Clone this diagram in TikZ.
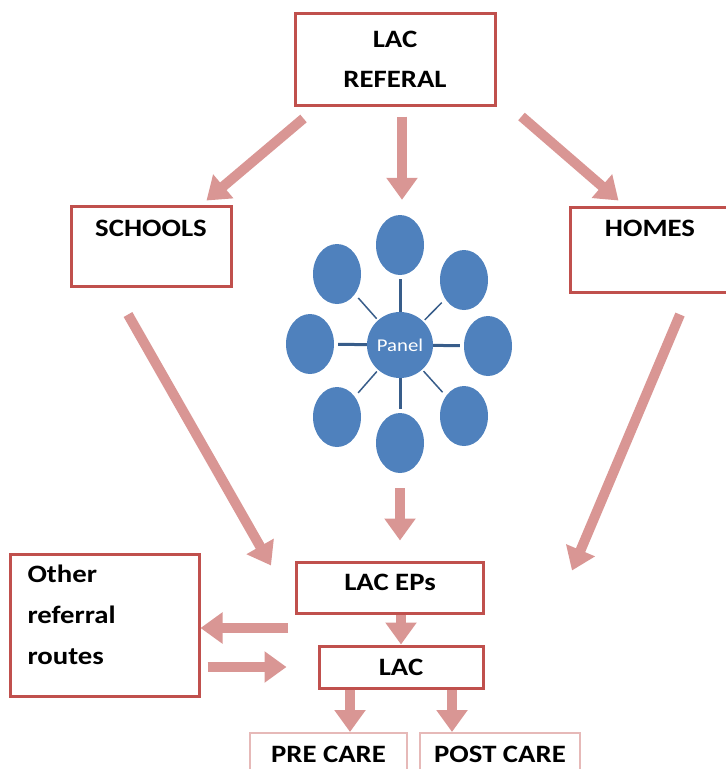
\documentclass[tikz,border=0pt]{standalone}
\usepackage{fontspec}
\setmainfont{Carlito}[FakeStretch=1.15]
\usetikzlibrary{arrows.meta,shapes.geometric}
\definecolor{boxred}{HTML}{C0504D}
\definecolor{arrowpink}{HTML}{D99694}
\definecolor{lightpink}{HTML}{E6B9B8}
\definecolor{panelblue}{HTML}{4F81BD}
\definecolor{lineblue}{HTML}{385D8A}
\begin{document}
\begin{tikzpicture}[x=1pt,y=-1pt,
	box/.style={draw=boxred,line width=3pt,inner sep=0pt},
	softbox/.style={draw=lightpink,line width=2pt,inner sep=0pt},
	txt/.style={font=\bfseries\fontsize{25}{28}\selectfont},
	leaf/.style={ellipse,fill=panelblue,minimum width=48pt,minimum height=60pt,inner sep=0pt},
	bigarrow/.style={draw=arrowpink,line width=10pt,-{Triangle[width=30pt,length=22pt]}}]
	\useasboundingbox (0,0) rectangle (726,769);
	% boxes
	\node [box,txt,align=center,minimum width=200pt,minimum height=92pt] (referal) at (395,59) {LAC\\[12pt]REFERAL};
	\node [box,minimum width=160pt,minimum height=80pt] (schools) at (151,246) {};
	\node [txt] (schoolstxt) at (151,228) {SCHOOLS};
	\node [box,minimum width=160pt,minimum height=85pt] (homes) at (650,249.5) {};
	\node [txt] (homestxt) at (650,228) {HOMES};
	\node [box,minimum width=187pt,minimum height=51pt] (laceps) at (390,587.5) {};
	\node [txt] (lacepstxt) at (390,582) {LAC EPs};
	\node [box,txt,minimum width=164pt,minimum height=42pt] (lac) at (401,667) {LAC};
	\node [box,minimum width=189pt,minimum height=142pt] (other) at (104.5,625) {};
	\node [txt,anchor=west,align=left,font=\bfseries\fontsize{25}{41}\selectfont] (othertxt) at (24,615) {Other\\referral\\routes};
	\node [softbox,txt,minimum width=157pt,minimum height=42pt] (pre) at (328.5,754) {PRE CARE};
	\node [softbox,txt,minimum width=160pt,minimum height=42pt] (post) at (500,754) {POST CARE};
	% panel
	\node [circle,fill=panelblue,minimum size=66pt,inner sep=0pt,text=white,font=\fontsize{18}{20}\selectfont] (panel) at (400,345) {Panel};
	\node [leaf] (t) at (400,245) {};
	\node [leaf] (tl) at (337,274) {};
	\node [leaf] (tr) at (464,280) {};
	\node [leaf] (l) at (310,344) {};
	\node [leaf] (r) at (488,346) {};
	\node [leaf] (bl) at (337,417) {};
	\node [leaf] (br) at (464,416) {};
	\node [leaf] (b) at (400,443) {};
	\foreach \e in {t,l,r,b}
		\draw [lineblue,line width=3pt,shorten >=4pt] (panel) -- (\e);
	\foreach \e in {tl,tr,bl,br}
		\draw [lineblue,line width=1.5pt,shorten >=5pt,shorten <=2pt] (panel) -- (\e);
	% arrows
	\draw [bigarrow] ([shift={(10,12)}]referal.south west) -- ([shift={(-26,-4)}]schools.north east);
	\draw [bigarrow] ([shift={(7,10)}]referal.south) -- ([shift={(2,-15)}]t.north);
	\draw [bigarrow] ([shift={(25,10)}]referal.south east) -- ([shift={(50,-5)}]homes.north west);
	\draw [bigarrow] ([shift={(-23,27)}]schools.south) -- ([shift={(-24,5)}]laceps.north west);
	\draw [bigarrow] ([shift={(0,15)}]b.south) -- ([shift={(10,-20)}]laceps.north);
	\draw [bigarrow] ([shift={(30,21)}]homes.south) -- ([shift={(87,10)}]laceps.north east);
	\coordinate (back) at (288,628);
	\draw [bigarrow] (back) -- (back -| other.east);
	\draw [bigarrow] ([xshift=7pt]other.east |- lac.west) -- ([xshift=-31pt]lac.west);
	\draw [bigarrow] (lac.north |- laceps.south) -- (lac.north);
	\draw [bigarrow] ([xshift=-51pt]lac.south) -- ([xshift=-51pt]lac.south |- pre.north);
	\draw [bigarrow] ([xshift=51pt]lac.south) -- ([xshift=51pt]lac.south |- post.north);
\end{tikzpicture}
\end{document}
